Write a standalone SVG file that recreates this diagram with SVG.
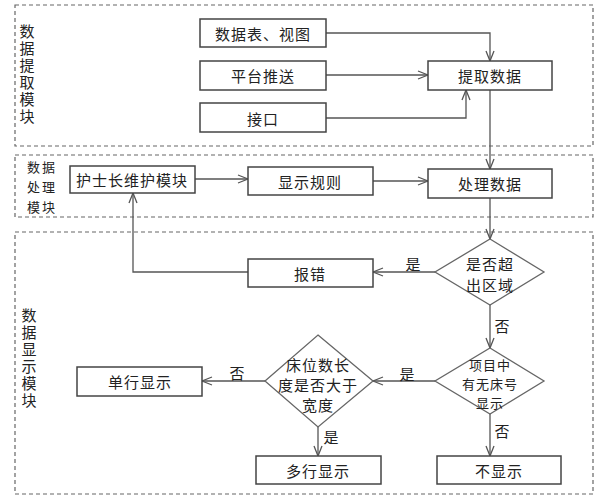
<svg xmlns="http://www.w3.org/2000/svg" width="605" height="500" viewBox="0 0 605 500">
<style>
.grp{fill:none;stroke:#666;stroke-width:1.2;stroke-dasharray:4,3}
.box{fill:#fff;stroke:#444;stroke-width:1.5}
.dia{fill:#fff;stroke:#666;stroke-width:1.3}
.t{font-family:"Noto Sans CJK SC","Noto Sans CJK JP",sans-serif;font-size:15px;fill:#222;text-anchor:middle;dominant-baseline:central;letter-spacing:1px}
.lab{font-family:"Noto Sans CJK SC","Noto Sans CJK JP",sans-serif;font-size:15px;fill:#222;text-anchor:middle;dominant-baseline:central}
.v{font-family:"Noto Sans CJK SC","Noto Sans CJK JP",sans-serif;font-size:15px;fill:#222;writing-mode:vertical-rl;letter-spacing:2px}
.c{fill:none;stroke:#555;stroke-width:1.3;marker-end:url(#a)}
</style>
<defs>
<marker id="a" viewBox="0 0 12 10" refX="11" refY="5" markerWidth="12" markerHeight="10" markerUnits="userSpaceOnUse" orient="auto">
<path d="M1,1 L11,5 L1,9" fill="none" stroke="#555" stroke-width="1.3"/>
</marker>
</defs>
<g id="groups">
<rect class="grp" x="15" y="5" width="578" height="141"/>
<rect class="grp" x="15" y="155" width="578" height="62"/>
<rect class="grp" x="15" y="232" width="578" height="262"/>
<text class="v" x="27" y="24">数据提取模块</text>
<text class="lab" style="font-size:13px;letter-spacing:2px"><tspan x="42" y="166">数据</tspan><tspan x="42" dy="20">处理</tspan><tspan x="42" dy="20">模块</tspan></text>
<text class="v" x="29" y="308">数据显示模块</text>
</g>
<g id="connectors">
<polyline class="c" points="326,33 490,33 490,61"/>
<polyline class="c" points="326,75 428,75"/>
<polyline class="c" points="326,118 466,118 466,90"/>
<polyline class="c" points="490,90 490,169"/>
<polyline class="c" points="195,179 248,179"/>
<polyline class="c" points="373,181 428,181"/>
<polyline class="c" points="490,198 490,239"/>
<polyline class="c" points="435,272 373,272"/>
<polyline class="c" points="248,272 133,272 133,193"/>
<polyline class="c" points="490,305 490,348"/>
<polyline class="c" points="435,381 373,381"/>
<polyline class="c" points="490,414 490,456"/>
<polyline class="c" points="265,381 202,381"/>
<polyline class="c" points="318,427 318,456"/>
<text class="lab" x="413" y="263">是</text>
<text class="lab" x="502" y="325">否</text>
<text class="lab" x="407" y="373">是</text>
<text class="lab" x="502" y="430">否</text>
<text class="lab" x="237" y="372">否</text>
<text class="lab" x="331" y="436">是</text>
</g>
<g id="n1"><rect class="box" x="200" y="19" width="126" height="28"/><text class="t" x="263" y="33">数据表、视图</text></g>
<g id="n2"><rect class="box" x="200" y="61" width="126" height="29"/><text class="t" x="263" y="75">平台推送</text></g>
<g id="n3"><rect class="box" x="200" y="103" width="126" height="29"/><text class="t" x="263" y="118">接口</text></g>
<g id="n4"><rect class="box" x="428" y="61" width="124" height="29"/><text class="t" x="490" y="75">提取数据</text></g>
<g id="n5"><rect class="box" x="70" y="166" width="125" height="27"/><text class="t" x="132" y="179">护士长维护模块</text></g>
<g id="n6"><rect class="box" x="248" y="167" width="125" height="28"/><text class="t" x="310" y="181">显示规则</text></g>
<g id="n7"><rect class="box" x="428" y="169" width="124" height="29"/><text class="t" x="490" y="183">处理数据</text></g>
<g id="n8"><polygon class="dia" points="490,239 544,272 490,305 435,272"/><text class="t"><tspan x="490" y="263">是否超</tspan><tspan x="490" dy="21">出区域</tspan></text></g>
<g id="n9"><rect class="box" x="248" y="259" width="125" height="28"/><text class="t" x="310" y="273">报错</text></g>
<g id="n10"><polygon class="dia" points="490,348 544,381 490,414 435,381"/><text class="t" style="font-size:13px"><tspan x="490" y="364">项目中</tspan><tspan x="490" dy="19">有无床号</tspan><tspan x="490" dy="19">显示</tspan></text></g>
<g id="n11"><polygon class="dia" points="318,335 373,381 318,427 265,381"/><text class="t"><tspan x="318" y="364">床位数长</tspan><tspan x="318" dy="20">度是否大于</tspan><tspan x="318" dy="20">宽度</tspan></text></g>
<g id="n12"><rect class="box" x="77" y="367" width="125" height="29"/><text class="t" x="140" y="381">单行显示</text></g>
<g id="n13"><rect class="box" x="256" y="456" width="125" height="28"/><text class="t" x="318" y="470">多行显示</text></g>
<g id="n14"><rect class="box" x="437" y="456" width="124" height="28"/><text class="t" x="499" y="470">不显示</text></g>
</svg>
